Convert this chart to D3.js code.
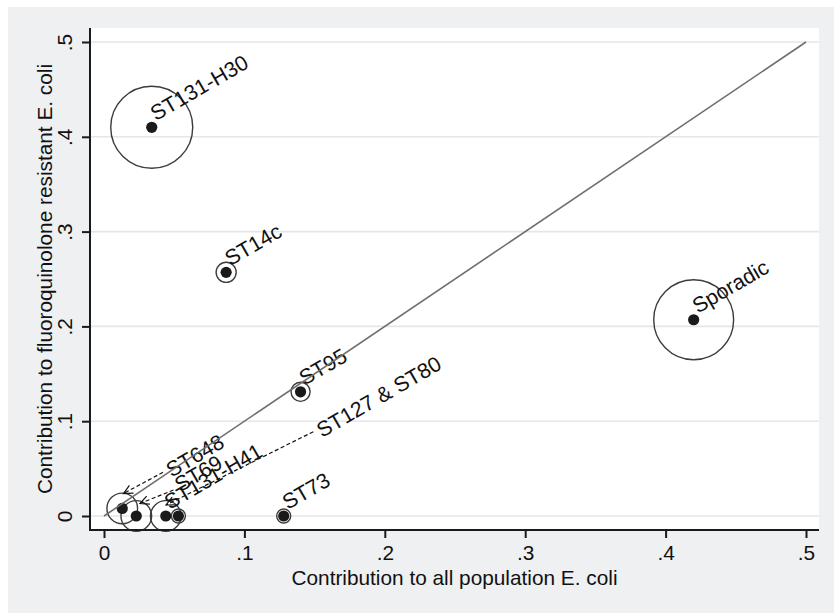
<!DOCTYPE html>
<html>
<head>
<meta charset="utf-8">
<script src="https://cdn.jsdelivr.net/npm/d3@7"></script>
<style>
  html, body { margin: 0; padding: 0; background: #fff; }
  svg { display: block; font-family: "Liberation Sans", Arial, Helvetica, sans-serif; }
</style>
</head>
<body>
<script>
// data ===================================================================
var names      = ["ST131-H30", "ST14c", "Sporadic", "ST95", "ST127 & ST80", "ST648", "ST69", "ST131-H41", "ST73"]
var allPop     = [0.034, 0.087, 0.420, 0.140, 0.053, 0.013, 0.023, 0.044, 0.128]
var fqResist   = [0.410, 0.257, 0.207, 0.131, 0.000, 0.008, 0.000, 0.000, 0.000]
var bubbleSize = [100, 6, 95, 5.4, 2.9, 14, 14, 14, 2.9]

// labels placed away from their point, with a dashed leader
var calloutNames  = ["ST648", "ST69", "ST127 & ST80"]
var calloutLabelX = [0.0481, 0.0541, 0.1553]
var calloutLabelY = [0.0403, 0.0247, 0.0823]
var arrowFromX    = [0.0420, 0.0495, 0.1491]
var arrowFromY    = [0.0461, 0.0274, 0.0889]
var arrowToX      = [0.0139, 0.0256, 0.0442]
var arrowToY      = [0.0237, 0.0132, 0.0116]

var xTicks = [0, 0.1, 0.2, 0.3, 0.4, 0.5]
var yTicks = [0, 0.1, 0.2, 0.3, 0.4, 0.5]
var xTitle = "Contribution to all population E. coli"
var yTitle = "Contribution to fluoroquinolone resistant E. coli"

// layout =================================================================
var W = 834, H = 615
var plot = { left: 90, top: 28, right: 819, bottom: 530 }
var fontSize = 20.8
var labelSize = 21.3

var svg = d3.select("body").append("svg")
    .attr("width", W)
    .attr("height", H)

svg.append("rect").attr("x", 8).attr("y", 7).attr("width", W - 8).attr("height", 606).attr("fill", "#eff0f2")
svg.append("rect")
    .attr("x", plot.left).attr("y", plot.top)
    .attr("width", plot.right - plot.left).attr("height", plot.bottom - plot.top)
    .attr("fill", "#fff")

var x = d3.scaleLinear().domain([0, 0.5]).range([104, 806])
var y = d3.scaleLinear().domain([0, 0.5]).range([516, 42])
var r = d3.scaleSqrt().domain([0, 100]).range([0, 41])

var fmt = function(d) { return d === 0 ? "0" : d3.format(".1f")(d).replace(/^0/, "") }

var pts = names.map(function(n, i) {
    return { name: n, x: allPop[i], y: fqResist[i], size: bubbleSize[i] }
})

// gridlines
svg.append("g").selectAll("line")
    .data(yTicks)
    .enter().append("line")
    .attr("x1", plot.left).attr("x2", plot.right)
    .attr("y1", function(d) { return y(d) }).attr("y2", function(d) { return y(d) })
    .attr("stroke", "#e6e6e6")
    .attr("stroke-width", 1.6)

// bubbles
svg.append("g").selectAll("circle")
    .data(pts)
    .enter().append("circle")
    .attr("cx", function(d) { return x(d.x) })
    .attr("cy", function(d) { return y(d.y) })
    .attr("r", function(d) { return r(d.size) })
    .attr("fill", "none")
    .attr("stroke", "#3c3c3c")
    .attr("stroke-width", 1.4)

svg.append("g").selectAll("circle")
    .data(pts)
    .enter().append("circle")
    .attr("cx", function(d) { return x(d.x) })
    .attr("cy", function(d) { return y(d.y) })
    .attr("r", 5.6)
    .attr("fill", "#1a1a1a")

// leader lines with barbed heads
var arrows = calloutNames.map(function(n, i) {
    return { x1: x(arrowFromX[i]), y1: y(arrowFromY[i]), x2: x(arrowToX[i]), y2: y(arrowToY[i]) }
})
var ag = svg.append("g").attr("stroke", "#111").attr("fill", "none").attr("stroke-width", 1.2)
ag.selectAll("line")
    .data(arrows)
    .enter().append("line")
    .attr("x1", function(d) { return d.x1 }).attr("y1", function(d) { return d.y1 })
    .attr("x2", function(d) { return d.x2 }).attr("y2", function(d) { return d.y2 })
    .attr("stroke-dasharray", "4,2.5")
ag.selectAll("path")
    .data(arrows)
    .enter().append("path")
    .attr("d", function(d) {
        var a = Math.atan2(d.y1 - d.y2, d.x1 - d.x2), len = 10, sp = 0.45
        return "M" + (d.x2 + len * Math.cos(a - sp)) + "," + (d.y2 + len * Math.sin(a - sp)) +
               "L" + d.x2 + "," + d.y2 +
               "L" + (d.x2 + len * Math.cos(a + sp)) + "," + (d.y2 + len * Math.sin(a + sp))
    })

// marker labels, rotated 30 degrees
var labels = pts.filter(function(d) { return calloutNames.indexOf(d.name) < 0 })
    .map(function(d) { return { name: d.name, px: x(d.x) + 4, py: y(d.y) - 6 } })
calloutNames.forEach(function(n, i) {
    labels.push({ name: n, px: x(calloutLabelX[i]), py: y(calloutLabelY[i]) })
})
svg.append("g").selectAll("text")
    .data(labels)
    .enter().append("text")
    .attr("transform", function(d) { return "translate(" + d.px + "," + d.py + ") rotate(-30)" })
    .attr("font-size", labelSize)
    .attr("fill", "#111")
    .text(function(d) { return d.name })

// 45 degree reference line
svg.append("line")
    .attr("x1", x(0)).attr("y1", y(0))
    .attr("x2", x(0.5)).attr("y2", y(0.5))
    .attr("stroke", "#6e6e6e")
    .attr("stroke-width", 1.6)

// axes
var xAxis = svg.append("g")
    .attr("transform", "translate(0," + plot.bottom + ")")
    .call(d3.axisBottom(x).tickValues(xTicks).tickSize(8).tickFormat(fmt))
xAxis.select(".domain").remove()
xAxis.selectAll("line").attr("stroke", "#1a1a1a").attr("stroke-width", 2)
xAxis.selectAll("text")
    .attr("y", 30).attr("dy", 0)
    .attr("font-size", fontSize)
    .attr("font-family", "Liberation Sans, Arial, sans-serif")
    .attr("fill", "#111")

var yAxis = svg.append("g")
    .attr("transform", "translate(" + plot.left + ",0)")
    .call(d3.axisLeft(y).tickValues(yTicks).tickSize(8).tickFormat(fmt))
yAxis.select(".domain").remove()
yAxis.selectAll("line").attr("stroke", "#1a1a1a").attr("stroke-width", 2)
yAxis.selectAll("text")
    .attr("transform", "rotate(-90)")
    .attr("x", 0).attr("y", -18).attr("dy", 0)
    .attr("text-anchor", "middle")
    .attr("font-size", fontSize)
    .attr("font-family", "Liberation Sans, Arial, sans-serif")
    .attr("fill", "#111")

svg.append("line")
    .attr("x1", plot.left).attr("x2", plot.left)
    .attr("y1", plot.top).attr("y2", plot.bottom + 1)
    .attr("stroke", "#1a1a1a").attr("stroke-width", 2)
svg.append("line")
    .attr("x1", plot.left - 1).attr("x2", plot.right)
    .attr("y1", plot.bottom).attr("y2", plot.bottom)
    .attr("stroke", "#1a1a1a").attr("stroke-width", 2)

// titles
svg.append("text")
    .attr("x", (plot.left + plot.right) / 2).attr("y", 585)
    .attr("text-anchor", "middle")
    .attr("font-size", fontSize)
    .attr("fill", "#111")
    .text(xTitle)

svg.append("text")
    .attr("transform", "translate(52," + (plot.top + plot.bottom) / 2 + ") rotate(-90)")
    .attr("text-anchor", "middle")
    .attr("font-size", fontSize)
    .attr("fill", "#111")
    .text(yTitle)
</script>
</body>
</html>
